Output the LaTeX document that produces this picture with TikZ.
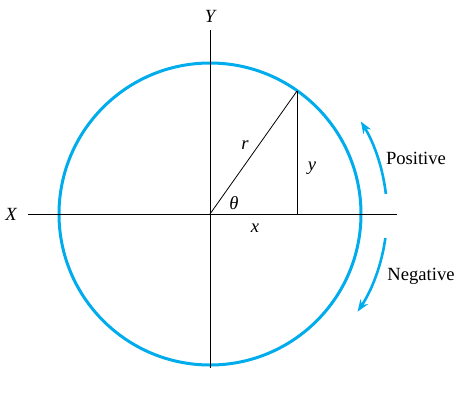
\documentclass[tikz,border=0pt]{standalone}
\usepackage{fontspec}
\setmainfont{Liberation Serif}
\usetikzlibrary{arrows.meta,calc}
\definecolor{cy}{RGB}{0,172,236}
\begin{document}
\begin{tikzpicture}[x=0.5pt,y=-0.5pt,
  axis/.style={black, line width=0.5pt},
  thin line/.style={black, line width=0.4pt},
  lbl/.style={inner sep=0pt, font=\fontsize{9.3}{11}\selectfont},
  dir/.style={cy, line width=1.3pt, -{Stealth[length=6pt,width=4.5pt]}}]
\useasboundingbox (0,0) rectangle (456,398);
\coordinate (O) at (210,214);
\coordinate (xl) at (28,214);
\coordinate (xr) at (397,214);
\coordinate (yt) at (210,30);
\coordinate (yb) at (210,368);
\coordinate (P) at (297,91);
\coordinate (F) at (297,214);
\draw[cy, line width=1.5pt] (O) circle[radius=151];
\draw[axis] (xl) -- (xr);
\draw[axis] (yt) -- (yb);
\draw[thin line] (O) -- (P);
\draw[thin line] (P) -- (F);
\node[lbl] (X) at (11,214) {\itshape X};
\node[lbl] (Y) at (210,16) {\itshape Y};
\node[lbl] (r) at (245,145) {\itshape r};
\node[lbl] (yy) at (312,168) {\itshape y};
\node[lbl] (th) at (234,203) {\itshape θ};
\node[lbl] (xx) at (255,228) {\itshape x};
\node[lbl] (pos) at (416,158) {Positive};
\node[lbl] (neg) at (421,276) {Negative};
\draw[dir] ($(O)+(-6.5:177)$) arc[start angle=-6.5, end angle=-31.5, radius=177];
\draw[dir] ($(O)+(7.8:177)$) arc[start angle=7.8, end angle=33.5, radius=177];
\end{tikzpicture}
\end{document}
